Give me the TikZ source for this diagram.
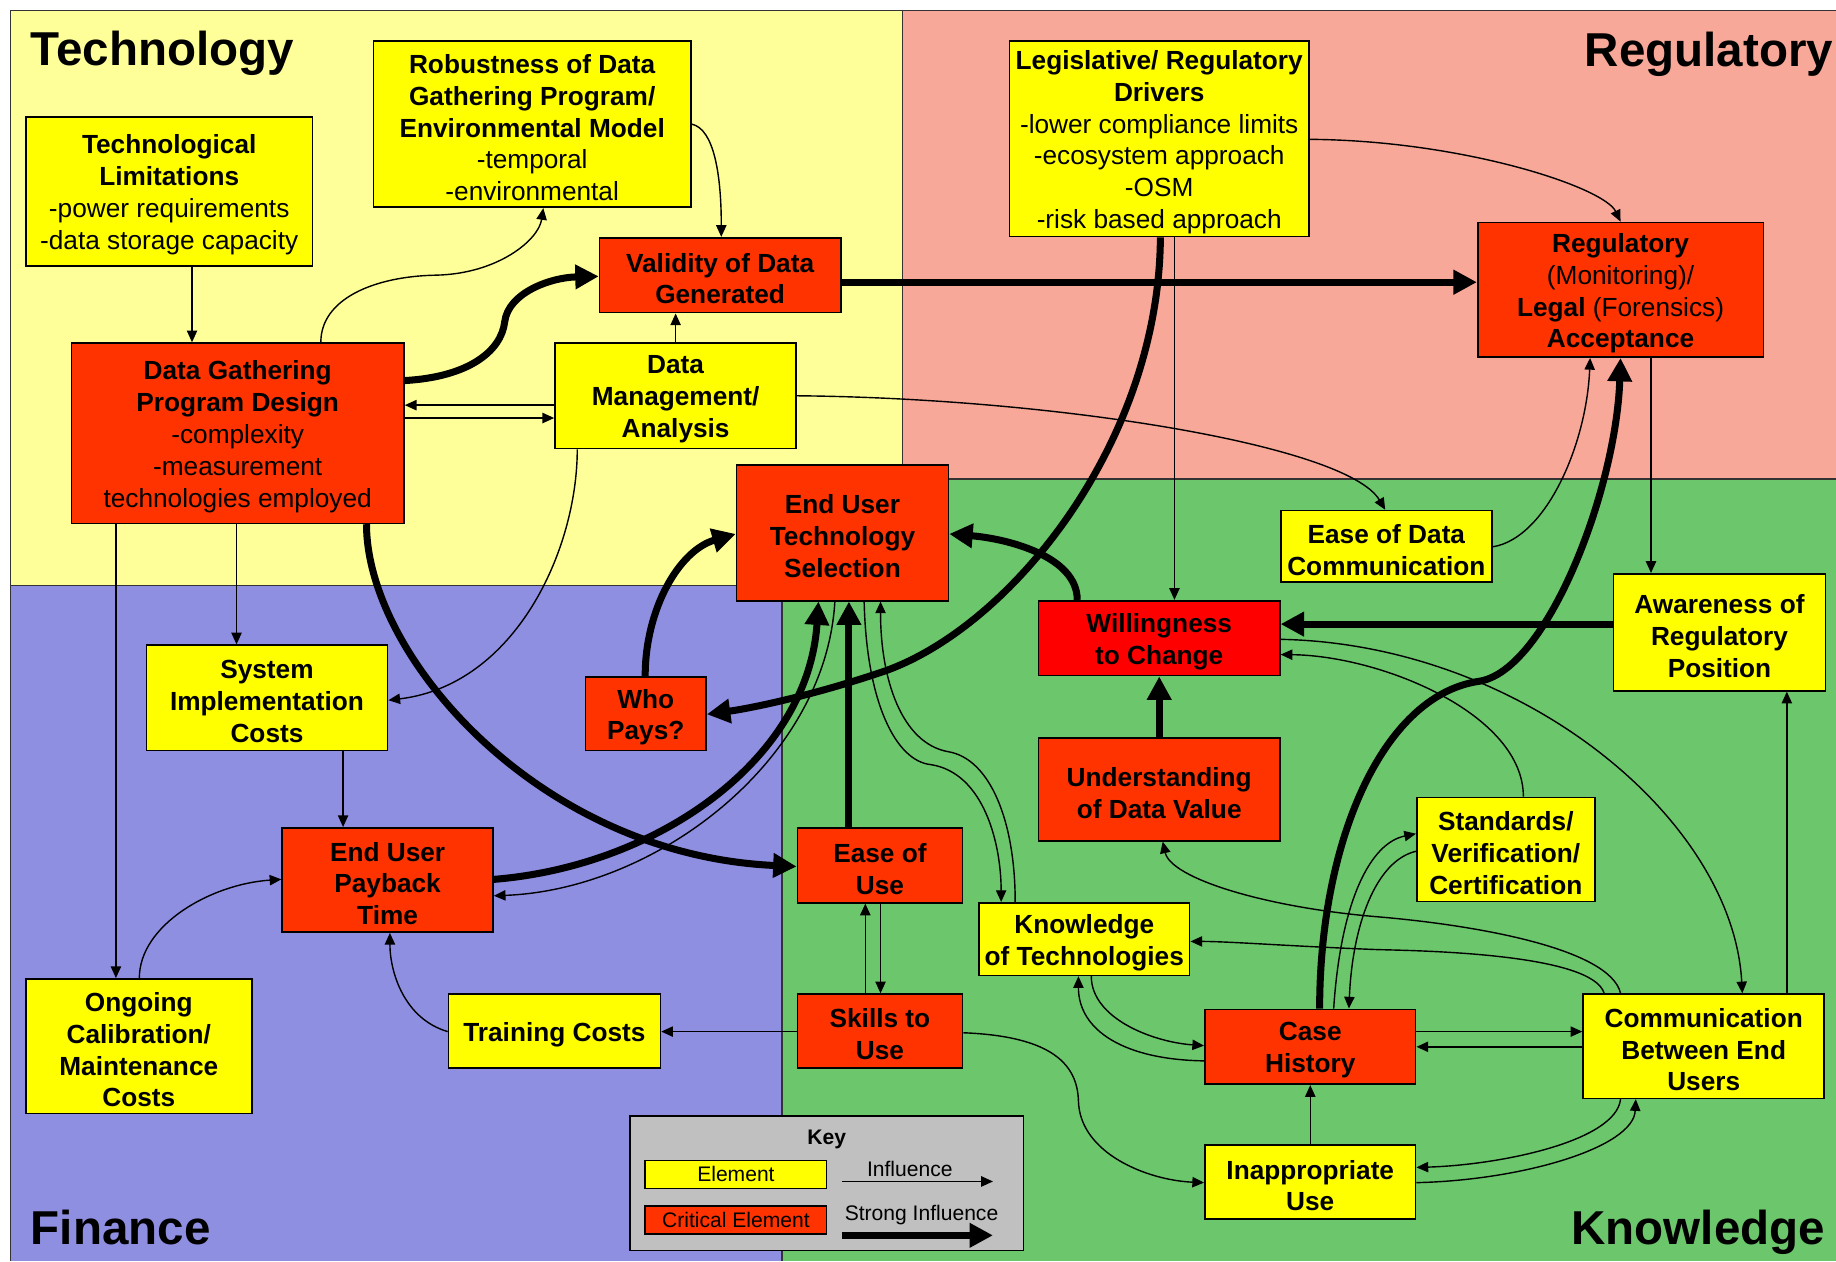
\documentclass[tikz,border=0pt]{standalone}
\usepackage{fontspec}
\setmainfont{Liberation Sans}
\usetikzlibrary{arrows.meta}
\definecolor{techbg}{HTML}{FFFF99}
\definecolor{regbg}{HTML}{F8A898}
\definecolor{finbg}{HTML}{8F8FE2}
\definecolor{knobg}{HTML}{6CC66C}
\definecolor{elem}{HTML}{FFFF00}
\definecolor{crit}{HTML}{FF3300}
\definecolor{critr}{HTML}{FF0000}
\definecolor{keybg}{HTML}{C0C0C0}
\tikzset{
 box/.style={draw=black, line width=0.7pt, inner sep=0pt},
 ebox/.style={box, fill=elem},
 cbox/.style={box, fill=crit},
 boxtext/.style={align=center, inner sep=0pt, font=\fontsize{11.2}{13.6}\selectfont\bfseries},
 inf/.style={line width=0.6pt, -{Triangle[length=5pt,width=4.4pt]}},
 strong/.style={line width=3pt, -{Triangle[length=10pt,width=10pt]}},
 region/.style={draw=black!80, line width=0.6pt},
 title/.style={font=\fontsize{20.3}{24}\selectfont\bfseries, inner sep=0pt},
 keytext/.style={font=\fontsize{9}{11}\selectfont, inner sep=0pt},
}
\newcommand\bx[7]{\node[#6, minimum width={(#4-#2)*0.5pt}, minimum height={(#5-#3)*0.5pt}] (#1) at ({(#2+#4)/2},{(#3+#5)/2}) {};
\node[boxtext] (#1-t) at ({(#2+#4)/2},{(#3+#5)/2+3}) {#7};}
\begin{document}
\begin{tikzpicture}[x=0.5pt,y=-0.5pt]
\useasboundingbox (0,0) rectangle (1568,1077);
\fill[white] (0,0) rectangle (1568,1077);
\fill[knobg] (668,409) rectangle (1568,1077);
\fill[techbg] (9,9) rectangle (771,500);
\fill[regbg] (771,9) rectangle (1568,409);
\fill[finbg] (9,500) rectangle (668,1077);
\draw[region] (9,1077) -- (9,9) -- (1568,9);
\draw[region] (771,9) -- (771,500);
\draw[region] (771,409) -- (1568,409);
\draw[region] (9,500) -- (771,500);
\draw[region] (668,500) -- (668,1077);

\node[title, anchor=base west] (ttech) at (26,56) {Technology};
\node[title, anchor=base east] (treg) at (1566,57) {Regulatory};
\node[title, anchor=base west] (tfin) at (26,1063) {Finance};
\node[title, anchor=base east] (tknow) at (1559,1063) {Knowledge};

\bx{tl}{22}{100}{267}{227}{ebox}{Technological\\Limitations\\{\mdseries -power requirements}\\{\mdseries -data storage capacity}}
\bx{rob}{319}{35}{590}{177}{ebox}{Robustness of Data\\Gathering Program/\\Environmental Model\\{\mdseries -temporal}\\{\mdseries -environmental}}
\bx{val}{512}{203}{718}{267}{cbox}{Validity of Data\\Generated}
\bx{dgpd}{61}{293}{345}{447}{cbox}{Data Gathering\\Program Design\\{\mdseries -complexity}\\{\mdseries -measurement}\\{\mdseries technologies employed}}
\bx{dm}{474}{293}{680}{383}{ebox}{Data\\Management/\\Analysis}
\bx{leg}{862}{35}{1118}{202}{ebox}{Legislative/ Regulatory\\Drivers\\{\mdseries -lower compliance limits}\\{\mdseries -ecosystem approach}\\{\mdseries -OSM}\\{\mdseries -risk based approach}}
\bx{reg}{1262}{190}{1506}{305}{cbox}{Regulatory\\{\mdseries (Monitoring)/}\\Legal {\mdseries (Forensics)}\\Acceptance}
\bx{euts}{629}{397}{810}{513}{cbox}{End User\\Technology\\Selection}
\bx{edc}{1094}{436}{1274}{497}{ebox}{Ease of Data\\Communication}
\bx{wil}{887}{513}{1093}{577}{box,fill=critr}{Willingness\\to Change}
\bx{aw}{1378}{490}{1559}{590}{ebox}{Awareness of\\Regulatory\\Position}
\bx{sic}{125}{551}{331}{641}{ebox}{System\\Implementation\\Costs}
\bx{wp}{500}{578}{603}{641}{cbox}{Who\\Pays?}
\bx{und}{887}{630}{1093}{718}{cbox}{Understanding\\of Data Value}
\bx{pay}{241}{707}{421}{796}{cbox}{End User\\Payback\\Time}
\bx{eou}{681}{707}{822}{771}{cbox}{Ease of\\Use}
\bx{std}{1210}{681}{1362}{770}{ebox}{Standards/\\Verification/\\Certification}
\bx{kt}{836}{771}{1016}{833}{ebox}{Knowledge\\of Technologies}
\bx{ocm}{22}{836}{215}{951}{ebox}{Ongoing\\Calibration/\\Maintenance\\Costs}
\bx{tc}{383}{849}{564}{912}{ebox}{Training Costs}
\bx{sk}{681}{849}{822}{912}{cbox}{Skills to\\Use}
\bx{ch}{1029}{862}{1209}{926}{cbox}{Case\\History}
\bx{com}{1352}{849}{1558}{938}{ebox}{Communication\\Between End\\Users}
\bx{inap}{1029}{978}{1209}{1041}{ebox}{Inappropriate\\Use}

% key
\node[box, fill=keybg, minimum width=168pt, minimum height=57.5pt] (key) at (706,1010.5) {};
\node[keytext, font=\fontsize{9}{11}\selectfont\bfseries] (keyt) at (706,973) {Key};
\node[ebox, keytext, minimum width=77.5pt, minimum height=12pt] (kel) at (628.5,1003) {Element};
\node[cbox, keytext, minimum width=77.5pt, minimum height=12pt] (kcr) at (628.5,1042) {Critical Element};
\node[keytext] (kinf) at (777,998) {Influence};
\node[keytext] (kstr) at (787,1038) {Strong Influence};
\coordinate (ka1) at (719,1009); \coordinate (ka2) at (848,1009);
\coordinate (kb1) at (719,1055); \coordinate (kb2) at (848,1055);
\draw[inf] (ka1) -- (ka2);
\draw[strong] (kb1) -- (kb2);

% influences
\draw[inf] (tl.south -| 164,0) -- (dgpd.north -| 164,0);
\draw[inf] (dgpd.north -| 274,0) .. controls (274,255) and (320,236) .. (372,235) .. controls (425,234) and (460,205) .. (rob.south -| 464,0);
\draw[inf] (rob.east |- 0,106) .. controls (610,110) and (616,150) .. (val.north -| 616,0);
\draw[inf] (dm.north -| 577,0) -- (val.south -| 577,0);
\draw[inf] (dm.west |- 0,346) -- (dgpd.east |- 0,346);
\draw[inf] (dgpd.east |- 0,357) -- (dm.west |- 0,357);
\draw[inf] (dm.east |- 0,338) .. controls (900,340) and (1150,380) .. (edc.north -| 1183,0);
\draw[inf] (dm.south -| 493,0) .. controls (493,470) and (440,585) .. (sic.east |- 0,598);
\draw[inf] (dgpd.south -| 202,0) -- (sic.north -| 202,0);
\draw[inf] (dgpd.south -| 99,0) -- (ocm.north -| 99,0);
\draw[inf] (sic.south -| 293,0) -- (pay.north -| 293,0);
\draw[inf] (ocm.north -| 119,0) .. controls (119,790) and (180,755) .. (pay.west |- 0,751);
\draw[inf] (tc.west |- 0,881) .. controls (345,870) and (333,830) .. (pay.south -| 333,0);
\draw[inf] (sk.west |- 0,881) -- (tc.east |- 0,881);
\draw[inf] (sk.north -| 739,0) -- (eou.south -| 739,0);
\draw[inf] (eou.south -| 752,0) -- (sk.north -| 752,0);
\draw[inf] (leg.south -| 1003,0) -- (wil.north -| 1003,0);
\draw[inf] (leg.east |- 0,119) .. controls (1250,120) and (1370,160) .. (reg.north -| 1384,0);
\draw[inf] (reg.south -| 1410,0) -- (aw.north -| 1410,0);
\draw[inf] (edc.east |- 0,467) .. controls (1320,460) and (1355,380) .. (reg.south -| 1358,0);
\draw[inf] (com.north -| 1526,0) -- (aw.south -| 1526,0);
\draw[inf] (wil.east |- 0,546) .. controls (1300,550) and (1480,700) .. (com.north -| 1488,0);
\draw[inf] (std.north -| 1301,0) .. controls (1301,610) and (1180,560) .. (wil.east |- 0,559);
\draw[inf] (com.north -| 1384,0) .. controls (1375,810) and (1260,790) .. (1177,783) .. controls (1080,775) and (1000,750) .. (und.south -| 993,0);
\draw[inf] (com.north -| 1370,0) .. controls (1360,815) and (1220,812) .. (1177,811) .. controls (1100,808) and (1050,804) .. (kt.east |- 0,804);
\draw[inf] (ch.east |- 0,881) -- (com.west |- 0,881);
\draw[inf] (com.west |- 0,894) -- (ch.east |- 0,894);
\draw[inf] (ch.north -| 1139,0) .. controls (1145,770) and (1170,720) .. (std.west |- 0,712);
\draw[inf] (std.west |- 0,727) .. controls (1175,735) and (1155,790) .. (ch.north -| 1152,0);
\draw[inf] (kt.south -| 932,0) .. controls (932,870) and (985,890) .. (ch.west |- 0,893);
\draw[inf] (ch.west |- 0,906) .. controls (960,905) and (921,880) .. (kt.south -| 921,0);
\draw[inf] (com.south -| 1384,0) .. controls (1380,975) and (1280,995) .. (inap.east |- 0,997);
\draw[inf] (inap.east |- 0,1010) .. controls (1300,1008) and (1395,980) .. (com.south -| 1397,0);
\draw[inf] (inap.north -| 1119,0) -- (ch.south -| 1119,0);
\draw[inf] (sk.east |- 0,882) .. controls (900,885) and (920,910) .. (921,940) .. controls (922,985) and (980,1008) .. (inap.west |- 0,1010);
\draw[inf] (euts.south -| 738,0) .. controls (740,600) and (765,650) .. (795,653) .. controls (840,660) and (855,720) .. (kt.north -| 855,0);
\draw[inf] (kt.north -| 867,0) .. controls (867,700) and (845,648) .. (810,642) .. controls (770,635) and (752,580) .. (euts.south -| 752,0);
\draw[inf] (euts.south -| 713,0) .. controls (705,650) and (560,760) .. (pay.east |- 0,765);

% strong influences
\draw[strong] (dgpd.east |- 0,325) .. controls (400,322) and (428,300) .. (431,275) .. controls (434,250) and (470,237) .. (val.west |- 0,236);
\draw[strong] (val.east |- 0,241) -- (reg.west |- 0,241);
\draw[strong] (dgpd.south -| 313,0) .. controls (313,560) and (460,730) .. (eou.west |- 0,740);
\draw[strong] (pay.east |- 0,751) .. controls (560,740) and (690,650) .. (euts.south -| 699,0);
\draw[strong] (wp.north -| 551,0) .. controls (551,520) and (580,470) .. (euts.west |- 0,456);
\draw[strong] (leg.south -| 991,0) .. controls (990,380) and (860,540) .. (750,575) .. controls (690,595) and (640,605) .. (wp.east |- 0,610);
\draw[strong] (eou.north -| 725,0) -- (euts.south -| 725,0);
\draw[strong] (wil.north -| 920,0) .. controls (920,475) and (860,460) .. (euts.east |- 0,456);
\draw[strong] (und.north -| 990,0) -- (wil.south -| 990,0);
\draw[strong] (aw.west |- 0,533) -- (wil.east |- 0,533);
\draw[strong] (ch.north -| 1127,0) .. controls (1127,720) and (1180,595) .. (1262,582) .. controls (1320,575) and (1380,420) .. (reg.south -| 1384,0);
\end{tikzpicture}
\end{document}
